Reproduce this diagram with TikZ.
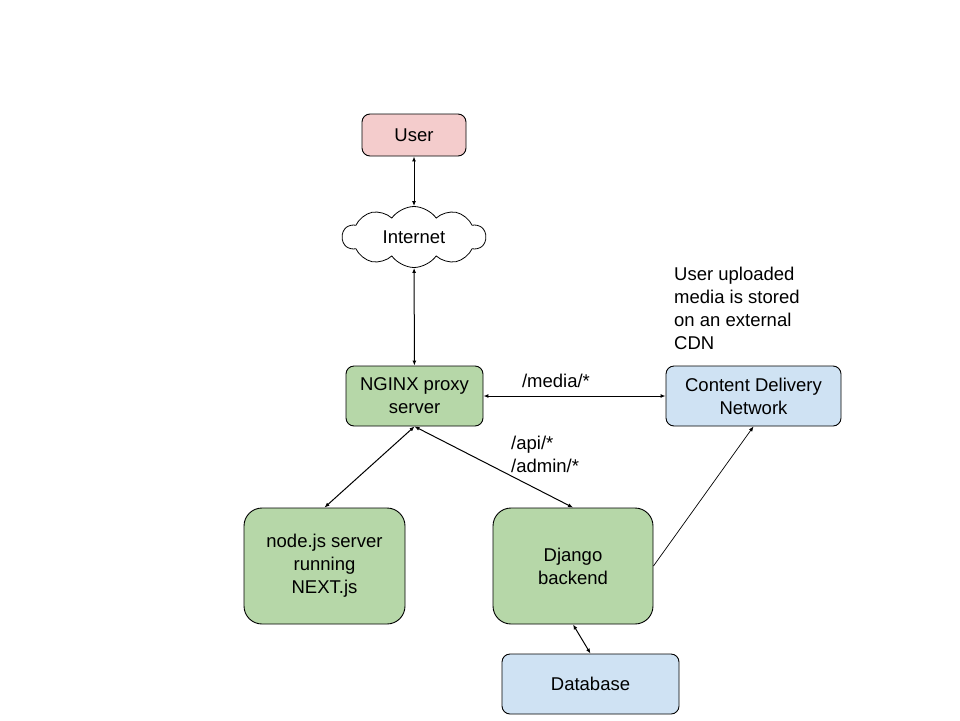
\documentclass[tikz,border=0pt]{standalone}
\usepackage{fontspec}
\setmainfont{Liberation Sans}
\usetikzlibrary{shapes.symbols}
\usetikzlibrary{arrows.meta}
\definecolor{userpink}{HTML}{F4CCCC}
\definecolor{servgreen}{HTML}{B6D7A8}
\definecolor{storeblue}{HTML}{CFE2F3}

\begin{document}
\begin{tikzpicture}[x=1pt,y=-1pt,
  every node/.style={font=\fontsize{18.5}{23}\selectfont},
  box/.style={draw=black,line width=0.9pt,rounded corners=8pt,align=center,inner sep=0pt},
  bigbox/.style={box,fill=servgreen,rounded corners=18pt,minimum height=116pt},
  link/.style={line width=1pt,{Latex[length=5pt,width=4pt]}-{Latex[length=5pt,width=4pt]}},
  oneway/.style={line width=0.7pt,-{Latex[length=5pt,width=4pt]}},
  note/.style={inner sep=0pt,align=left}]
\useasboundingbox[fill=white] (0,0) rectangle (960,720);

% nodes
\node[box,fill=userpink,minimum width=104pt,minimum height=42pt] (user) at (414,135) {User};
\node[cloud,draw=black,line width=0.8pt,cloud puffs=10,cloud puff arc=110,cloud ignores aspect,
      minimum width=143pt,minimum height=61pt,inner sep=0pt] (internet) at (414,237) {Internet};
\node[box,fill=servgreen,minimum width=137pt,minimum height=60pt] (nginx) at (414.5,396) {NGINX proxy\\server};
\node[box,fill=storeblue,minimum width=175pt,minimum height=60pt] (cdn) at (753.5,396) {Content Delivery\\Network};
\node[bigbox,minimum width=161pt] (nodejs) at (324.5,566) {node.js server\\running\\NEXT.js};
\node[bigbox,minimum width=160pt] (django) at (573,566) {Django\\backend};
\node[box,fill=storeblue,minimum width=177pt,minimum height=60pt] (db) at (590.5,684) {Database};

% connectors
\draw[link] (user) -- (internet);
\draw[link] (internet) -- (nginx);
\draw[link] (nginx) -- (cdn);
\draw[link] (nginx.south) -- (nodejs.north);
\draw[link] (nginx.south) -- (django.north);
\draw[link] (django.south) -- (db.north);
\draw[oneway] (django.east) -- (cdn.south);

% labels
\node[anchor=base] (medialbl) at (556,387) {/media/*};
\node[note,anchor=north west] (routelbl) at (511,436) {/api/*\\/admin/*};
\node[note,anchor=north west] (cdnnote) at (674,267) {User uploaded\\media is stored\\on an external\\CDN};

\end{tikzpicture}
\end{document}
